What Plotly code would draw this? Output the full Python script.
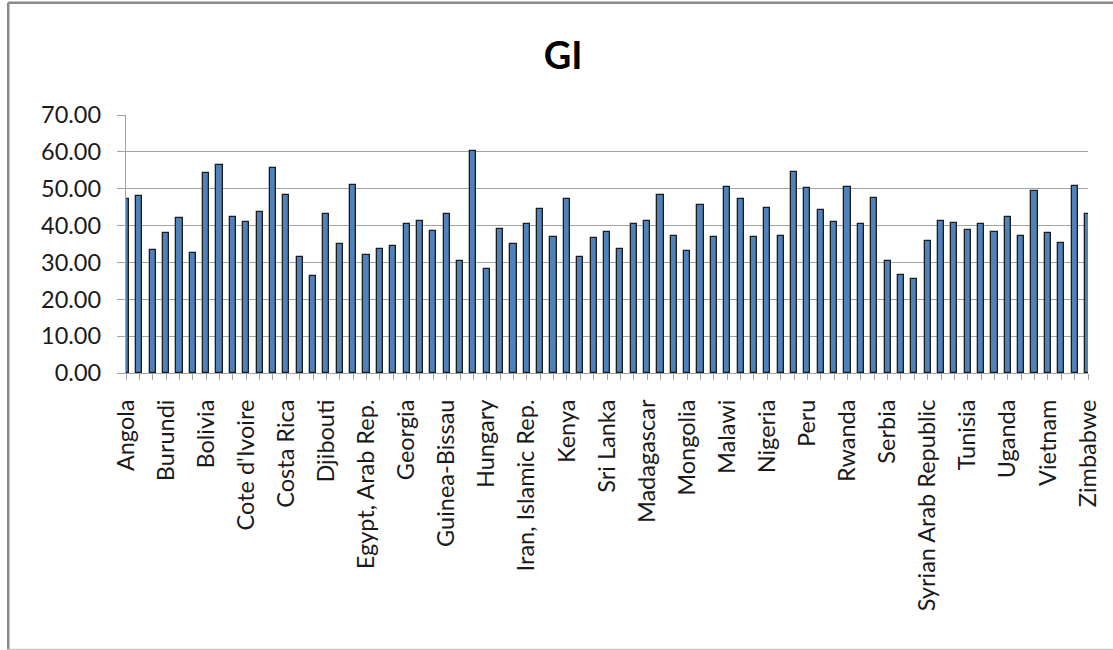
import plotly.graph_objects as go

# GI value for each country, in the order shown on the axis
gi_values = [
    47.3, 48.0, 33.3, 37.9, 42.1, 32.6, 54.3, 56.3, 42.4, 40.9,
    43.8, 55.6, 48.3, 31.6, 26.4, 43.1, 35.1, 51.1, 32.0, 33.6,
    34.4, 40.3, 41.3, 38.5, 43.1, 30.5, 60.1, 28.1, 39.2, 35.1,
    40.3, 44.5, 36.9, 47.3, 31.6, 36.5, 38.2, 33.6, 40.3, 41.3,
    48.3, 37.1, 33.0, 45.6, 36.9, 50.5, 47.3, 36.9, 44.8, 37.1,
    54.6, 50.1, 44.1, 40.9, 50.5, 40.3, 47.6, 30.5, 26.7, 25.6,
    35.8, 41.3, 40.7, 38.9, 40.3, 38.2, 42.4, 37.1, 49.4, 37.9,
    35.4, 50.7, 43.1,
]

# Every third country carries a label on the category axis
shown_labels = [
    "Angola", "Burundi", "Bolivia", "Cote d'Ivoire", "Costa Rica",
    "Djibouti", "Egypt, Arab Rep.", "Georgia", "Guinea-Bissau", "Hungary",
    "Iran, Islamic Rep.", "Kenya", "Sri Lanka", "Madagascar", "Mongolia",
    "Malawi", "Nigeria", "Peru", "Rwanda", "Serbia",
    "Syrian Arab Republic", "Tunisia", "Uganda", "Vietnam", "Zimbabwe",
]
label_step = 3

y_ticks = [0, 10, 20, 30, 40, 50, 60, 70]

positions = list(range(len(gi_values)))
tick_text = [
    shown_labels[i // label_step] if i % label_step == 0 else ""
    for i in positions
]

FONT = "Lato, Calibri, 'Open Sans', sans-serif"
GRID = "#a3a3a3"
TEXT = "#1a1a1a"

fig = go.Figure(
    go.Bar(
        x=positions,
        y=gi_values,
        width=0.46,
        marker=dict(color="#4f81bd", line=dict(color="#1c1c1c", width=1.3)),
    )
)

fig.update_layout(
    width=1113,
    height=650,
    margin=dict(l=126, r=23, t=115, b=277),
    paper_bgcolor="white",
    plot_bgcolor="white",
    showlegend=False,
    font=dict(family=FONT, size=23.5, color=TEXT),
    title=dict(
        text="<b>GI</b>",
        font=dict(family=FONT, size=38, color="#000000"),
        x=0.506,
        xanchor="center",
        xref="container",
        y=0.914,
        yanchor="middle",
        yref="container",
    ),
    bargap=0,
)

fig.update_xaxes(
    range=[0, len(gi_values) - 1],
    tickmode="array",
    tickvals=positions,
    ticktext=tick_text,
    tickangle=-90,
    ticks="outside",
    ticklen=6,
    tickcolor=GRID,
    tickwidth=1.3,
    ticklabelstandoff=10,
    showgrid=False,
    showline=True,
    linecolor=GRID,
    linewidth=1.3,
    zeroline=False,
    tickfont=dict(family=FONT, size=23.5, color=TEXT),
)

fig.update_yaxes(
    range=[0, 70],
    tickmode="array",
    tickvals=y_ticks,
    tickformat=".2f",
    ticks="outside",
    ticklen=8,
    tickcolor=GRID,
    tickwidth=1.3,
    ticklabelstandoff=11,
    showgrid=True,
    gridcolor=GRID,
    gridwidth=1.3,
    showline=True,
    linecolor=GRID,
    linewidth=1.3,
    zeroline=False,
    tickfont=dict(family=FONT, size=23.5, color=TEXT),
)

# Outer chart frame (left, top and bottom edges)
frame_left = -118 / 964
frame_top = 369.7 / 257.7
frame_bottom = -276.3 / 257.7
fig.add_shape(type="line", xref="paper", yref="paper",
              x0=frame_left, x1=frame_left, y0=frame_bottom, y1=frame_top,
              line=dict(color="#8a8a8a", width=2.5))
fig.add_shape(type="line", xref="paper", yref="paper",
              x0=frame_left, x1=1.05, y0=frame_top, y1=frame_top,
              line=dict(color="#8a8a8a", width=2.5))
fig.add_shape(type="line", xref="paper", yref="paper",
              x0=frame_left, x1=1.05, y0=frame_bottom, y1=frame_bottom,
              line=dict(color="#c8c8c8", width=1.5))

fig.write_html("out.html")
